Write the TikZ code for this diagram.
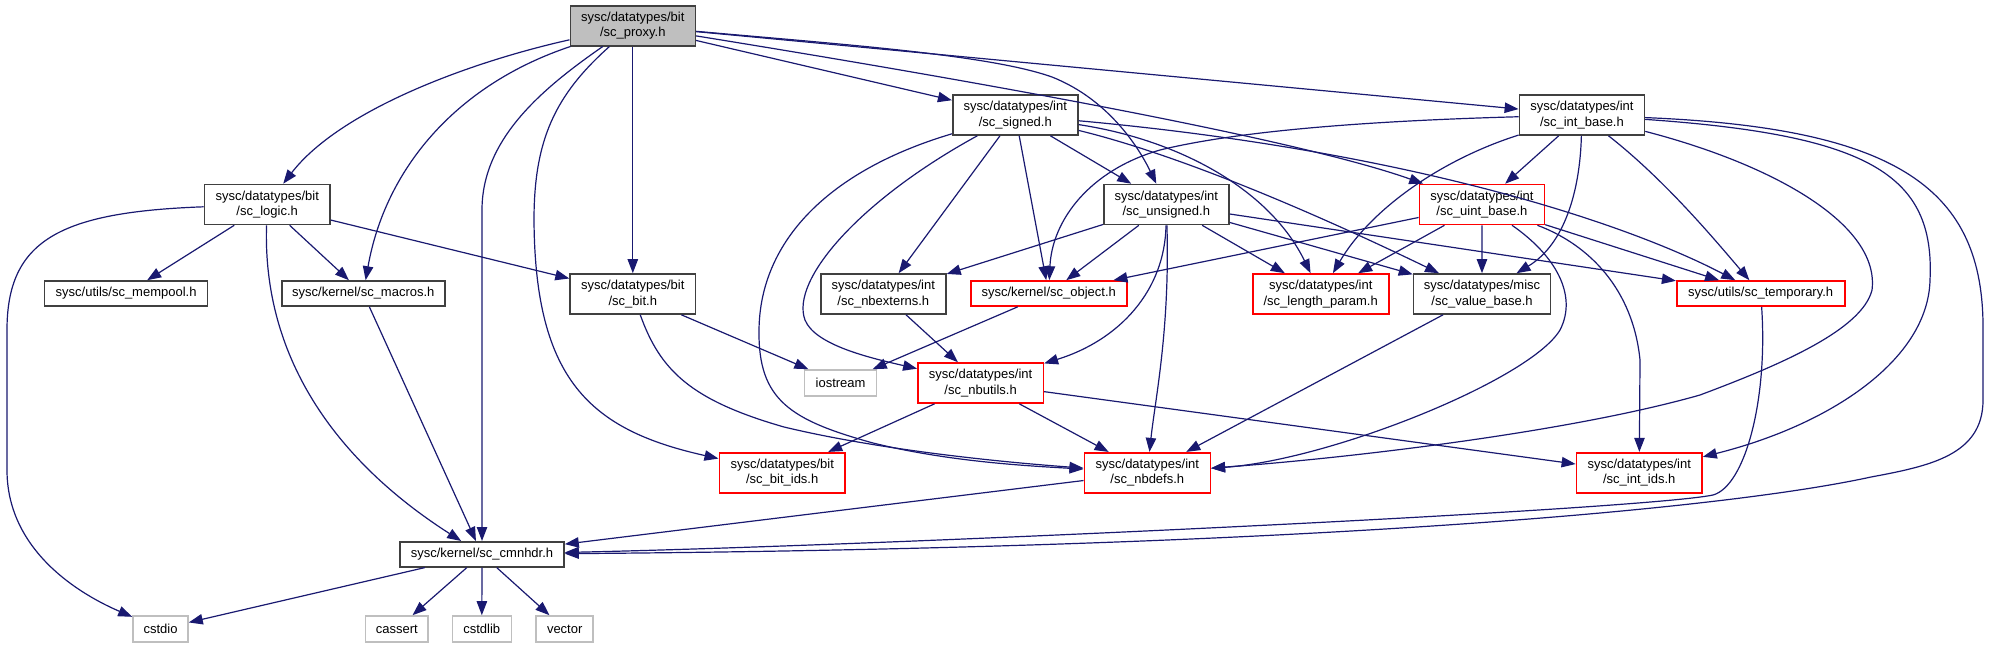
\documentclass[tikz,border=0pt]{standalone}
\usepackage{fontspec}
\setmainfont{Liberation Sans}
\usetikzlibrary{arrows.meta}
\definecolor{edgec}{HTML}{191970}
\definecolor{boxk}{HTML}{404040}
\definecolor{boxr}{HTML}{FF0000}
\definecolor{boxg}{HTML}{BFBFBF}
\begin{document}
\begin{tikzpicture}[x=0.5pt,y=-0.5pt,
  box/.style={draw=boxk, line width=0.8pt, rectangle, inner sep=0pt, align=center,
    font=\fontsize{6.5}{7.65}\selectfont, minimum height=20pt, fill=white},
  redbox/.style={box, draw=boxr},
  extbox/.style={box, draw=boxg, minimum height=13pt},
  one/.style={minimum height=12.5pt},
  dep/.style={draw=edgec, line width=0.6pt, -{Triangle[length=7pt,width=5.2pt]}},
]
\useasboundingbox (0,0) rectangle (1989,648);

% nodes
\node[box, fill=boxg, minimum width=62.5pt] (proxy) at (632.8,25.7) {sysc/datatypes/bit\\/sc\_proxy.h};
\node[box, minimum width=62.7pt] (logic) at (267.2,204.5) {sysc/datatypes/bit\\/sc\_logic.h};
\node[box, one, minimum width=81.5pt] (mempool) at (126.1,293.5) {sysc/utils/sc\_mempool.h};
\node[box, one, minimum width=81.5pt] (macros) at (363.3,293.5) {sysc/kernel/sc\_macros.h};
\node[box, minimum width=62.7pt] (bit) at (632.8,294) {sysc/datatypes/bit\\/sc\_bit.h};
\node[box, minimum width=62.6pt] (signed) at (1015.3,115) {sysc/datatypes/int\\/sc\_signed.h};
\node[box, minimum width=62.6pt] (unsigned) at (1166.3,204.5) {sysc/datatypes/int\\/sc\_unsigned.h};
\node[box, minimum width=62.6pt] (nbexterns) at (883.3,294) {sysc/datatypes/int\\/sc\_nbexterns.h};
\node[redbox, one, minimum width=78pt] (object) at (1048.7,293.5) {sysc/kernel/sc\_object.h};
\node[redbox, minimum width=68pt] (length) at (1320.7,294) {sysc/datatypes/int\\/sc\_length\_param.h};
\node[box, minimum width=62.5pt] (intbase) at (1581.9,115) {sysc/datatypes/int\\/sc\_int\_base.h};
\node[redbox, minimum width=62.5pt] (uintbase) at (1481.9,204.5) {sysc/datatypes/int\\/sc\_uint\_base.h};
\node[box, minimum width=68.5pt] (valuebase) at (1482,294) {sysc/datatypes/misc\\/sc\_value\_base.h};
\node[redbox, one, minimum width=84pt] (temporary) at (1760.7,293.5) {sysc/utils/sc\_temporary.h};
\node[box, one, minimum width=82pt] (cmnhdr) at (482,554.3) {sysc/kernel/sc\_cmnhdr.h};
\node[extbox, minimum width=27.5pt] (cstdio) at (160.5,629) {cstdio};
\node[extbox, minimum width=31.2pt] (cassert) at (396.8,629) {cassert};
\node[extbox, minimum width=29.5pt] (cstdlib) at (481.8,629) {cstdlib};
\node[extbox, minimum width=28.5pt] (vector) at (564.7,629) {vector};
\node[extbox, minimum width=36pt] (iostream) at (840.6,383) {iostream};
\node[redbox, minimum width=62.7pt] (nbutils) at (980.6,383) {sysc/datatypes/int\\/sc\_nbutils.h};
\node[redbox, minimum width=62.9pt] (bitids) at (782.2,472.7) {sysc/datatypes/bit\\/sc\_bit\_ids.h};
\node[redbox, minimum width=63pt] (nbdefs) at (1147.3,472.7) {sysc/datatypes/int\\/sc\_nbdefs.h};
\node[redbox, minimum width=62.8pt] (intids) at (1639.2,472.7) {sysc/datatypes/int\\/sc\_int\_ids.h};

% sc_proxy.h
\draw[dep] (proxy) .. controls (470,62) and (340,110) .. (logic);
\draw[dep] (proxy) .. controls (455,85) and (385,170) .. (macros);
\draw[dep] (proxy) .. controls (540,90) and (482,140) .. (482,210) -- (cmnhdr);
\draw[dep] (proxy) .. controls (555,95) and (534,140) .. (534,220) .. controls (535,380) and (590,430) .. (bitids);
\draw[dep] (proxy) -- (bit);
\draw[dep] (proxy) -- (signed);
\draw[dep] (proxy) .. controls (850,45) and (990,55) .. (1052,77) .. controls (1110,100) and (1140,150) .. (unsigned);
\draw[dep] (proxy) .. controls (1000,85) and (1300,140) .. (uintbase);
\draw[dep] (proxy) -- (intbase);

% sc_logic.h
\draw[dep] (logic) .. controls (60,212) and (7,240) .. (7,330) -- (7,470) .. controls (7,545) and (70,590) .. (cstdio);
\draw[dep] (logic) -- (mempool);
\draw[dep] (logic) -- (macros);
\draw[dep] (logic) -- (bit);
\draw[dep] (logic) .. controls (262,370) and (350,470) .. (cmnhdr);

\draw[dep] (macros) -- (cmnhdr);
\draw[dep] (bit) -- (iostream);
\draw[dep] (bit) .. controls (660,370) and (690,400) .. (784,427) .. controls (880,450) and (1000,462) .. (nbdefs);

% sc_signed.h
\draw[dep] (signed) -- (unsigned);
\draw[dep] (signed) -- (nbexterns);
\draw[dep] (signed) -- (object);
\draw[dep] (signed) .. controls (860,200) and (790,280) .. (805,320) .. controls (815,345) and (870,358) .. (nbutils);
\draw[dep] (signed) .. controls (830,170) and (760,240) .. (759,330) .. controls (758,400) and (790,420) .. (873,443) .. controls (950,462) and (1030,466) .. (nbdefs);
\draw[dep] (signed) .. controls (1180,140) and (1270,190) .. (length);
\draw[dep] (signed) .. controls (1200,160) and (1360,235) .. (valuebase);
\draw[dep] (signed) .. controls (1400,150) and (1620,220) .. (temporary);

% sc_unsigned.h
\draw[dep] (unsigned) -- (nbexterns);
\draw[dep] (unsigned) -- (object);
\draw[dep] (unsigned) .. controls (1165,290) and (1120,340) .. (nbutils);
\draw[dep] (unsigned) .. controls (1170,330) and (1155,400) .. (nbdefs);
\draw[dep] (unsigned) -- (length);
\draw[dep] (unsigned) -- (valuebase);
\draw[dep] (unsigned) -- (temporary);

% sc_int_base.h
\draw[dep] (intbase) .. controls (1400,120) and (1250,128) .. (1160,150) .. controls (1090,170) and (1052,220) .. (object);
\draw[dep] (intbase) .. controls (1440,160) and (1370,210) .. (length);
\draw[dep] (intbase) -- (uintbase);
\draw[dep] (intbase) .. controls (1580,190) and (1565,244) .. (valuebase);
\draw[dep] (intbase) .. controls (1665,180) and (1715,240) .. (temporary);
\draw[dep] (intbase) .. controls (1775,165) and (1880,225) .. (1872,290) .. controls (1862,330) and (1780,365) .. (1700,395) .. controls (1570,432) and (1350,458) .. (nbdefs);
\draw[dep] (intbase) .. controls (1870,135) and (1935,175) .. (1930,280) .. controls (1928,360) and (1830,425) .. (intids);
\draw[dep] (intbase) .. controls (1900,128) and (1984,190) .. (1983,330) -- (1983,400) .. controls (1983,455) and (1930,466) .. (1871,477) .. controls (1720,510) and (1300,548) .. (cmnhdr);

% sc_uint_base.h
\draw[dep] (uintbase) -- (object);
\draw[dep] (uintbase) -- (length);
\draw[dep] (uintbase) -- (valuebase);
\draw[dep] (uintbase) -- (temporary);
\draw[dep] (uintbase) .. controls (1555,255) and (1578,295) .. (1560,330) .. controls (1530,380) and (1330,460) .. (nbdefs);
\draw[dep] (uintbase) .. controls (1590,245) and (1633,290) .. (1640,360) -- (intids);

% others
\draw[dep] (object) -- (iostream);
\draw[dep] (nbexterns) -- (nbutils);
\draw[dep] (nbutils) -- (bitids);
\draw[dep] (nbutils) -- (nbdefs);
\draw[dep] (nbutils) -- (intids);
\draw[dep] (valuebase) -- (nbdefs);
\draw[dep] (temporary) .. controls (1768,400) and (1745,486) .. (1713,495) .. controls (1640,510) and (900,545) .. (cmnhdr);
\draw[dep] (nbdefs) -- (cmnhdr);
\draw[dep] (cmnhdr) -- (cstdio);
\draw[dep] (cmnhdr) -- (cassert);
\draw[dep] (cmnhdr) -- (cstdlib);
\draw[dep] (cmnhdr) -- (vector);
\end{tikzpicture}
\end{document}
